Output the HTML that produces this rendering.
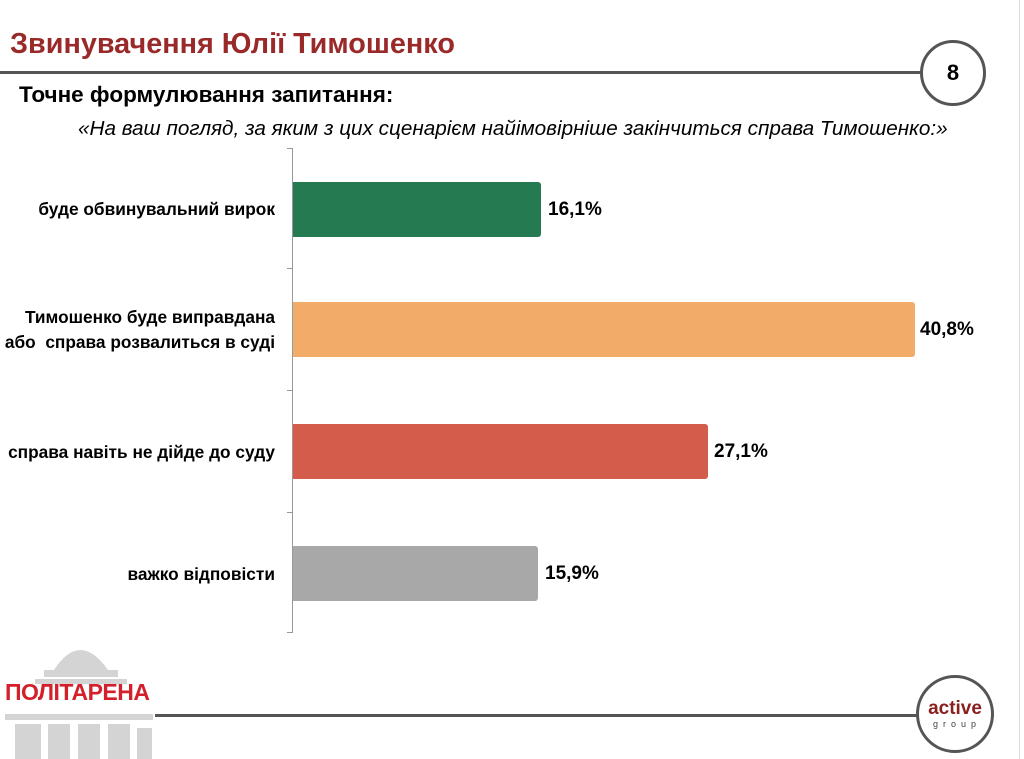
<!DOCTYPE html>
<html><head><meta charset="utf-8"><style>
body{margin:0;width:1024px;height:759px;background:#fff;position:relative;overflow:hidden;font-family:"Liberation Sans",sans-serif}
.a{position:absolute}
.lbl{position:absolute;right:749px;text-align:right;font-weight:bold;font-size:17.3px;color:#000;line-height:25px;white-space:nowrap}
.bar{position:absolute;left:293px;height:55px;border-radius:0 3px 3px 0}
.val{position:absolute;font-weight:bold;font-size:19px}
.tick{position:absolute;left:287px;width:6px;height:1px;background:#999}
</style></head><body>
<div class="a" style="left:10px;top:28px;font-size:28.8px;font-weight:bold;color:#9a2a2a;white-space:nowrap">Звинувачення Юлії Тимошенко</div>
<div class="a" style="left:0;top:71px;width:922px;height:3px;background:#555"></div>
<div class="a" style="left:920px;top:40px;width:60px;height:60px;border:3px solid #555;border-radius:50%;background:#fff;text-align:center;line-height:60px;font-size:22px;font-weight:bold">8</div>
<div class="a" style="left:19px;top:82px;font-size:22.5px;font-weight:bold;white-space:nowrap">Точне формулювання запитання:</div>
<div class="a" style="left:78px;top:117px;font-size:20.7px;font-style:italic;white-space:nowrap">«На ваш погляд, за яким з цих сценарієм найімовірніше закінчиться справа Тимошенко:»</div>
<div class="a" style="left:292px;top:148px;width:1px;height:484px;background:#999"></div>
<div class="tick" style="top:148px"></div><div class="tick" style="top:268px"></div><div class="tick" style="top:390px"></div><div class="tick" style="top:512px"></div><div class="tick" style="top:632px"></div>
<div class="lbl" style="top:197px">буде обвинувальний вирок</div>
<div class="lbl" style="top:305px">Тимошенко буде виправдана<br>або&nbsp; справа розвалиться в суді</div>
<div class="lbl" style="top:440px">справа навіть не дійде до суду</div>
<div class="lbl" style="top:562px">важко відповісти</div>
<div class="bar" style="top:182px;width:248px;background:#267a52"></div>
<div class="bar" style="top:302px;width:622px;background:#f2ab69"></div>
<div class="bar" style="top:424px;width:415px;background:#d45c4a"></div>
<div class="bar" style="top:546px;width:245px;background:#a8a8a8"></div>
<div class="val" style="left:548px;top:199px">16,1%</div>
<div class="val" style="left:920px;top:319px">40,8%</div>
<div class="val" style="left:714px;top:441px">27,1%</div>
<div class="val" style="left:545px;top:563px">15,9%</div>
<div class="a" style="left:1019px;top:0;width:1px;height:759px;background:#ddd"></div>
<div class="a" style="left:155px;top:714px;width:765px;height:3px;background:#555"></div>
<div class="a" style="left:916px;top:675px;width:72px;height:72px;border:3px solid #555;border-radius:50%;background:#fff;text-align:center">
<div style="color:#8a1f1f;font-weight:bold;font-size:19px;margin-top:21px;line-height:20px">active</div>
<div style="font-size:9px;letter-spacing:5px;color:#444;padding-left:4px">group</div></div>
<svg class="a" style="left:0;top:636px" width="160" height="123">
<g fill="#d4d4d4">
<path d="M54 34 Q80 -6 108 34 Z"/>
<rect x="44" y="34" width="74" height="7"/>
<rect x="35" y="43" width="92" height="5"/>
<rect x="5" y="78" width="148" height="6"/>
<rect x="15" y="88" width="26" height="35"/><rect x="48" y="88" width="22" height="35"/><rect x="78" y="88" width="22" height="35"/><rect x="108" y="88" width="22" height="35"/><rect x="137" y="92" width="15" height="31"/>
</g></svg>
<div class="a" style="left:5px;top:679px;font-size:23px;font-weight:bold;color:#d3202a;letter-spacing:-0.5px">ПОЛІТАРЕНА</div>
</body></html>
